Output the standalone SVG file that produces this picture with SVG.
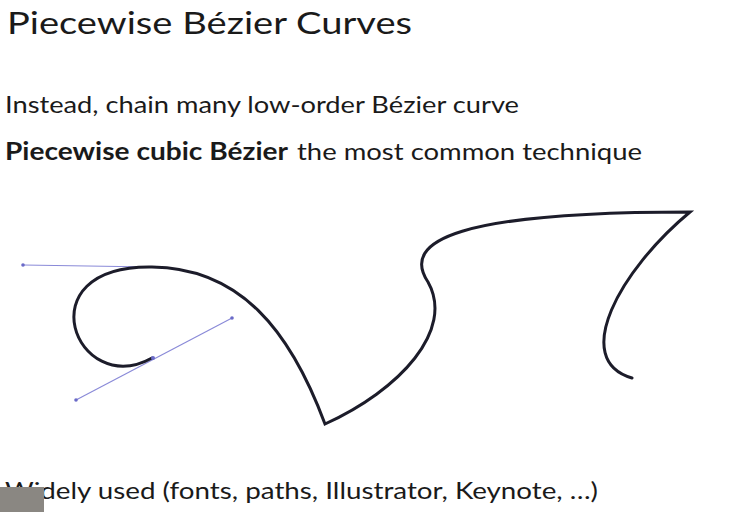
<svg xmlns="http://www.w3.org/2000/svg" width="749" height="512" viewBox="0 0 749 512">
<style>
.t{font-family:Lato,"Open Sans","Liberation Sans",sans-serif;fill:#1a1a1a}
.curve{fill:none;stroke:#1c1c2a;stroke-width:3;stroke-linecap:round;stroke-linejoin:miter}
.handle{stroke:#8a8ad8;stroke-width:1.2;fill:none}
.dot{fill:#6a6ac8}
</style>
<rect width="749" height="512" fill="#ffffff"/>
<g id="title"><text class="t" x="7" y="34" font-size="30" textLength="405" lengthAdjust="spacingAndGlyphs">Piecewise Bézier Curves</text></g>
<g id="line1"><text class="t" x="5" y="113" font-size="23.5" textLength="514" lengthAdjust="spacingAndGlyphs">Instead, chain many low-order Bézier curve</text></g>
<g id="line2">
<text class="t" x="5" y="160" font-size="25" font-weight="bold" textLength="283" lengthAdjust="spacingAndGlyphs">Piecewise cubic Bézier</text>
<text class="t" x="297" y="160" font-size="24" textLength="345" lengthAdjust="spacingAndGlyphs">the most common technique</text>
</g>
<g id="line3"><text class="t" x="5" y="499" font-size="24" textLength="593" lengthAdjust="spacingAndGlyphs">Widely used (fonts, paths, Illustrator, Keynote, …)</text></g>
<g id="handles">
<line class="handle" x1="23" y1="265" x2="152" y2="267"/>
<line class="handle" x1="76" y1="400" x2="232" y2="318"/>
<circle class="dot" cx="23" cy="265" r="1.8"/>
<circle class="dot" cx="76" cy="400" r="1.8"/>
<circle class="dot" cx="232" cy="318" r="1.8"/>
</g>
<g id="curves">
<path class="curve" d="M152,358 C76,400 23,265 152,267 C240,268 290,330 325,424 C400,390 455,330 428,282 C400,240 460,212 690,212 C620,270 570,360 632,378"/>
<circle class="dot" cx="153" cy="358" r="2"/>
</g>
<rect x="0" y="487" width="44" height="25" fill="#8a8782"/>
</svg>
